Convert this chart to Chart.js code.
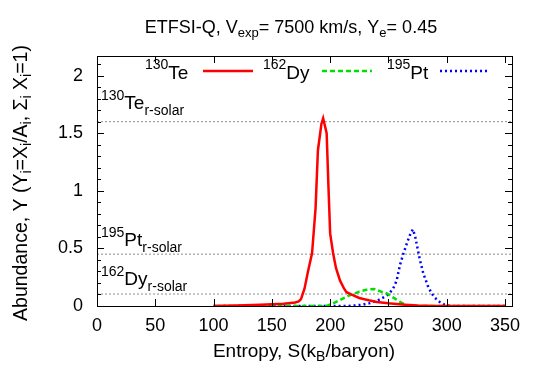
<!DOCTYPE html>
<html>
<head>
<meta charset="utf-8">
<script src="https://cdn.jsdelivr.net/npm/chart.js@4/dist/chart.umd.min.js"></script>
<style>
  html, body { margin: 0; padding: 0; background: #fff; }
  #wrap { width: 545px; height: 382px; }
</style>
</head>
<body>
<div id="wrap"><canvas id="abund" width="545" height="382"></canvas></div>
<script>
// entropy grid (k_B/baryon) and abundances for each isotope
const teS = [100, 120, 140, 160, 170, 173, 175, 178, 181, 184.5, 187.5, 189.5, 192.5, 194, 197, 198.5, 200, 202.5, 205, 208.5, 212, 214, 218, 225, 233, 240, 250, 257, 265, 275, 290, 350];
const teY = [0, 0.004, 0.01, 0.02, 0.03, 0.04, 0.06, 0.15, 0.3, 0.46, 0.85, 1.35, 1.58, 1.63, 1.5, 1.05, 0.63, 0.46, 0.33, 0.22, 0.15, 0.12, 0.1, 0.07, 0.05, 0.035, 0.023, 0.017, 0.01, 0.004, 0.001, 0];

const dyS = [100, 195, 198, 202, 206, 210, 215, 220, 225, 230, 235, 238, 241, 245, 249, 253, 257, 261, 265, 269, 273, 350];
const dyY = [0, 0, 0.005, 0.02, 0.04, 0.06, 0.085, 0.105, 0.125, 0.138, 0.145, 0.147, 0.135, 0.12, 0.108, 0.08, 0.055, 0.03, 0.012, 0.003, 0, 0];

const ptS = [100, 215, 222, 228, 234, 240, 245, 250, 254, 257, 260, 263, 266, 269, 271, 273, 275, 277, 280, 284, 287, 290, 294, 298, 302, 306, 350];
const ptY = [0, 0, 0.005, 0.012, 0.025, 0.045, 0.07, 0.1, 0.15, 0.22, 0.36, 0.46, 0.55, 0.63, 0.665, 0.6, 0.5, 0.4, 0.28, 0.17, 0.11, 0.07, 0.035, 0.012, 0.003, 0, 0];

// solar r-process abundances: 130Te, 195Pt, 162Dy
const solarNames = ['130Te', '195Pt', '162Dy'];
const solarVals = [1.60, 0.45, 0.104];

const xTicks = [0, 50, 100, 150, 200, 250, 300, 350];
const yTicks = [0, 0.5, 1, 1.5, 2];

const FONT = '"Liberation Sans", Arial, sans-serif';

function pts(xs, ys) {
  return xs.map((x, i) => ({ x: x, y: ys[i] }));
}

// draw text with super/subscripts; parts = [[text, 0|1|-1], ...]
function rich(ctx, parts, x, y, size, small, align, sup, sub) {
  let w = 0;
  parts.forEach(p => {
    ctx.font = (p[1] ? small : size) + 'px ' + FONT;
    w += ctx.measureText(p[0]).width;
  });
  let cx = align === 'center' ? x - w / 2 : x;
  ctx.textAlign = 'left';
  ctx.textBaseline = 'alphabetic';
  parts.forEach(p => {
    ctx.font = (p[1] ? small : size) + 'px ' + FONT;
    let dy = 0;
    if (p[1] === 1) dy = -sup;
    if (p[1] === -1) dy = sub;
    ctx.fillText(p[0], cx, y + dy);
    cx += ctx.measureText(p[0]).width;
  });
}

const deco = {
  id: 'deco',
  afterDraw(chart) {
    const ctx = chart.ctx;
    const a = chart.chartArea;
    const xs = chart.scales.x, ys = chart.scales.y;
    ctx.save();
    ctx.fillStyle = '#000';
    ctx.strokeStyle = '#000';
    ctx.lineWidth = 1;
    ctx.setLineDash([]);

    // inward ticks on all four sides
    ctx.beginPath();
    xTicks.forEach(v => {
      const px = Math.round(xs.getPixelForValue(v)) + 0.5;
      ctx.moveTo(px, a.bottom); ctx.lineTo(px, a.bottom - 7);
      ctx.moveTo(px, a.top); ctx.lineTo(px, a.top + 7);
    });
    for (let i = 0; i <= 21; i++) {
      const py = Math.round(ys.getPixelForValue(i / 10)) + 0.5;
      const len = i % 5 === 0 ? 7 : 4;
      ctx.moveTo(a.left, py); ctx.lineTo(a.left + len, py);
      ctx.moveTo(a.right, py); ctx.lineTo(a.right - len, py);
    }
    ctx.stroke();
    ctx.strokeRect(Math.round(a.left) + 0.5, Math.round(a.top) + 0.5,
      Math.round(a.right - a.left), Math.round(a.bottom - a.top));

    // title
    rich(ctx, [['ETFSI-Q, V', 0], ['exp', -1], ['= 7500 km/s, Y', 0], ['e', -1], ['= 0.45', 0]],
      291, 33, 18, 13, 'center', 7, 4);

    // x axis title
    rich(ctx, [['Entropy, S(k', 0], ['B', -1], ['/baryon)', 0]], 304, 357, 19, 14, 'center', 7, 4);

    // y axis title (rotated)
    ctx.save();
    ctx.translate(27, 183);
    ctx.rotate(-Math.PI / 2);
    rich(ctx, [['Abundance, Y (Y', 0], ['i', -1], ['=X', 0], ['i', -1], ['/A', 0], ['i', -1],
      [', \u03A3', 0], ['i', -1], [' X', 0], ['i', -1], ['=1)', 0]], 0, 0, 19.5, 14, 'center', 7, 4);
    ctx.restore();

    // legend inside the plot
    const legend = [
      { name: '130', el: 'Te', x: 145, x0: 203, ds: 0 },
      { name: '162', el: 'Dy', x: 263, x0: 322, ds: 1 },
      { name: '195', el: 'Pt', x: 387, x0: 440, ds: 2 }
    ];
    legend.forEach(l => {
      ctx.fillStyle = '#000';
      rich(ctx, [[l.name, 1], [l.el, 0]], l.x, 79, 19, 14, 'left', 10, 0);
      const d = chart.data.datasets[l.ds];
      ctx.strokeStyle = d.borderColor;
      ctx.lineWidth = d.borderWidth;
      ctx.setLineDash(d.borderDash || []);
      ctx.beginPath();
      ctx.moveTo(l.x0, 71); ctx.lineTo(l.x0 + 50, 71);
      ctx.stroke();
    });
    ctx.setLineDash([]);

    // labels for the solar reference lines
    ctx.fillStyle = '#000';
    const lift = [12.5, 8.5, 9];
    solarNames.forEach((n, i) => {
      const py = ys.getPixelForValue(solarVals[i]);
      const iso = n.match(/^\d+/)[0], el = n.replace(/^\d+/, '');
      rich(ctx, [[iso, 1], [el, 0], ['r-solar', -1]], 101, py - lift[i], 19, 14, 'left', 9, 6);
    });
    ctx.restore();
  }
};

const refLines = solarVals.map(v => ({
  data: [{ x: 0, y: v }, { x: 356, y: v }],
  borderColor: '#8c8c8c',
  borderWidth: 1,
  borderDash: [2, 2],
  pointRadius: 0
}));

new Chart(document.getElementById('abund'), {
  type: 'line',
  data: {
    datasets: [
      { label: '130Te', data: pts(teS, teY), borderColor: '#ff0000', borderWidth: 2.5, pointRadius: 0 },
      { label: '162Dy', data: pts(dyS, dyY), borderColor: '#00e000', borderWidth: 2.5, borderDash: [5, 3], pointRadius: 0 },
      { label: '195Pt', data: pts(ptS, ptY), borderColor: '#0000ff', borderWidth: 2.5, borderDash: [2, 3], pointRadius: 0 }
    ].concat(refLines)
  },
  options: {
    responsive: false,
    animation: false,
    devicePixelRatio: 1,
    layout: { padding: { left: 0, top: 56, right: 33, bottom: 0 } },
    elements: { line: { tension: 0, fill: false } },
    plugins: { legend: { display: false }, title: { display: false }, tooltip: { enabled: false } },
    scales: {
      x: {
        type: 'linear', min: 0, max: 356,
        afterBuildTicks: s => { s.ticks = xTicks.map(v => ({ value: v })); },
        afterFit: s => { s.height = 76; },
        grid: { display: false, drawTicks: false },
        border: { display: false },
        ticks: { color: '#000', padding: 9, maxRotation: 0, autoSkip: false, font: { family: FONT, size: 18 }, callback: v => String(v) }
      },
      y: {
        type: 'linear', min: 0, max: 2.17,
        afterBuildTicks: s => { s.ticks = yTicks.map(v => ({ value: v })); },
        afterFit: s => { s.width = 97; },
        grid: { display: false, drawTicks: false },
        border: { display: false },
        ticks: { color: '#000', padding: 14, autoSkip: false, font: { family: FONT, size: 18 }, callback: v => String(v) }
      }
    }
  },
  plugins: [deco]
});
</script>
</body>
</html>
